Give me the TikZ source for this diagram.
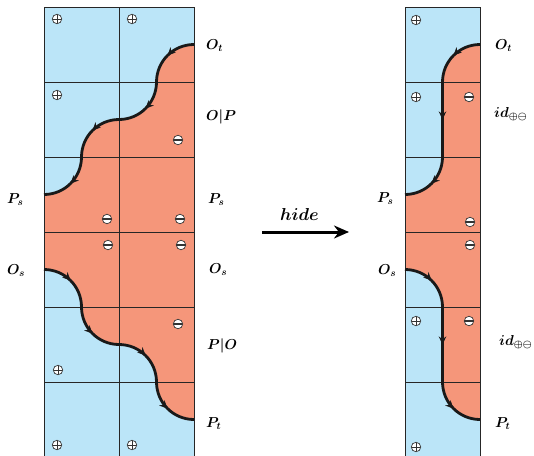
\documentclass[tikz,border=0pt]{standalone}
\usepackage{bm}
\usetikzlibrary{arrows.meta,decorations.markings}
\definecolor{cblue}{RGB}{187,229,248}
\definecolor{csalmon}{RGB}{245,150,122}
\tikzset{
  mytip/.tip={Stealth[length=8pt,width=7.5pt]},
  gridline/.style={draw=black!85, line width=0.8pt},
  curve/.style={draw=black!90, line width=2.8pt},
  lbl/.style={anchor=base west, inner sep=0pt, font=\fontsize{14.5}{17}\selectfont},
  pm/.style={circle, draw=black!80, fill=white, line width=0.7pt, minimum size=9.5pt, inner sep=0pt},
  pplus/.style={pm, path picture={\draw[line width=0.8pt,black!80]
     ([yshift=-0.5pt]path picture bounding box.north) -- ([yshift=0.5pt]path picture bounding box.south)
     ([xshift=0.5pt]path picture bounding box.west) -- ([xshift=-0.5pt]path picture bounding box.east);}},
  mminus/.style={pm, path picture={\draw[line width=1.8pt,black!80]
     (path picture bounding box.west) -- (path picture bounding box.east);}},
  arcmarks/.style={postaction={decorate, decoration={markings,
     mark=at position 0.125 with {\arrow{mytip}},
     mark=at position 0.375 with {\arrow{mytip}},
     mark=at position 0.625 with {\arrow{mytip}},
     mark=at position 0.875 with {\arrow{mytip}}}}},
  mixmarks/.style={postaction={decorate, decoration={markings,
     mark=at position 0.1527 with {\arrow{mytip}},
     mark=at position 0.5 with {\arrow{mytip}},
     mark=at position 0.8473 with {\arrow{mytip}}}}},
}
\begin{document}
\begin{tikzpicture}[x=1pt,y=-1pt]
\useasboundingbox (0,0) rectangle (534,455);
% ---------------- left picture ----------------
\fill[cblue] (44,7) rectangle (194,457);
\fill[csalmon] (194,44.5)
   arc[start angle=270,end angle=180,radius=37.5]
   arc[start angle=0,end angle=90,radius=37.5]
   arc[start angle=270,end angle=180,radius=37.5]
   arc[start angle=0,end angle=90,radius=37.5]
   -- (44,269.5)
   arc[start angle=270,end angle=360,radius=37.5]
   arc[start angle=180,end angle=90,radius=37.5]
   arc[start angle=270,end angle=360,radius=37.5]
   arc[start angle=180,end angle=90,radius=37.5]
   -- cycle;
\foreach \yy in {82,157,232,307,382} \draw[gridline] (44,\yy) -- (194,\yy);
\draw[gridline] (119,7) -- (119,457);
\draw[gridline] (44,7) rectangle (194,457);
\draw[curve,arcmarks] (194,44.5)
   arc[start angle=270,end angle=180,radius=37.5]
   arc[start angle=0,end angle=90,radius=37.5]
   arc[start angle=270,end angle=180,radius=37.5]
   arc[start angle=0,end angle=90,radius=37.5];
\draw[curve,arcmarks] (44,269.5)
   arc[start angle=270,end angle=360,radius=37.5]
   arc[start angle=180,end angle=90,radius=37.5]
   arc[start angle=270,end angle=360,radius=37.5]
   arc[start angle=180,end angle=90,radius=37.5];
% markers
\node[pplus] (l1) at (57,19) {};
\node[pplus] (l2) at (132,19) {};
\node[pplus] (l3) at (57,95) {};
\node[mminus] (l4) at (178,140) {};
\node[mminus] (l5) at (107,219) {};
\node[mminus] (l6) at (180,219) {};
\node[mminus] (l7) at (108,245) {};
\node[mminus] (l8) at (181,245) {};
\node[mminus] (l9) at (178,324) {};
\node[pplus] (l10) at (58,370) {};
\node[pplus] (l11) at (57,445) {};
\node[pplus] (l12) at (132,445) {};
% labels
\node[lbl] (a1) at (206,49.5) {$\bm{O_t}$};
\node[lbl] (a2) at (206,120) {$\bm{O|P}$};
\node[lbl] (a3) at (208,203) {$\bm{P_s}$};
\node[lbl] (a4) at (209,273) {$\bm{O_s}$};
\node[lbl] (a5) at (207,349) {$\bm{P|O}$};
\node[lbl] (a6) at (206,427) {$\bm{P_t}$};
\node[lbl] (a7) at (7,203) {$\bm{P_s}$};
\node[lbl] (a8) at (7,274) {$\bm{O_s}$};
% ---------------- arrow ----------------
\node[anchor=base west, inner sep=0pt, font=\fontsize{17}{20}\selectfont] (hide) at (280,220) {$\bm{hide}$};
\coordinate (hs) at (262,232);
\coordinate (he) at (349,232);
\draw[line width=3pt, -{Stealth[length=15pt,width=13pt]}] (hs) -- (he);
% ---------------- right picture ----------------
\fill[cblue] (405,7) rectangle (480,457);
\fill[csalmon] (480,44.5)
   arc[start angle=270,end angle=180,radius=37.5]
   -- (442.5,157)
   arc[start angle=0,end angle=90,radius=37.5]
   -- (405,269.5)
   arc[start angle=270,end angle=360,radius=37.5]
   -- (442.5,382)
   arc[start angle=180,end angle=90,radius=37.5]
   -- cycle;
\foreach \yy in {82,157,232,307,382} \draw[gridline] (405,\yy) -- (480,\yy);
\draw[gridline] (405,7) rectangle (480,457);
\draw[curve,mixmarks] (480,44.5)
   arc[start angle=270,end angle=180,radius=37.5]
   -- (442.5,157)
   arc[start angle=0,end angle=90,radius=37.5];
\draw[curve,mixmarks] (405,269.5)
   arc[start angle=270,end angle=360,radius=37.5]
   -- (442.5,382)
   arc[start angle=180,end angle=90,radius=37.5];
\node[pplus] (r1) at (416,20) {};
\node[pplus] (r2) at (416,97) {};
\node[mminus] (r3) at (469,97) {};
\node[mminus] (r4) at (470,222) {};
\node[mminus] (r5) at (470,245) {};
\node[pplus] (r6) at (416,321) {};
\node[mminus] (r7) at (469,321) {};
\node[pplus] (r8) at (416,447) {};
\node[lbl] (b1) at (495,49.5) {$\bm{O_t}$};
\node[lbl] (b2) at (494,117) {$\bm{id_{\oplus\ominus}}$};
\node[lbl] (b3) at (377,202) {$\bm{P_s}$};
\node[lbl] (b4) at (378,274) {$\bm{O_s}$};
\node[lbl] (b5) at (499,345) {$\bm{id_{\oplus\ominus}}$};
\node[lbl] (b6) at (495,427) {$\bm{P_t}$};
\end{tikzpicture}
\end{document}
